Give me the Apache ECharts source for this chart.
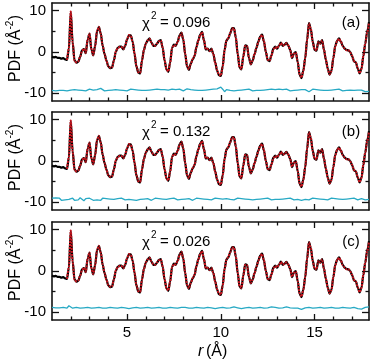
<!DOCTYPE html>
<html>
<head>
<meta charset="utf-8">
<script src="https://cdn.jsdelivr.net/npm/echarts@6/dist/echarts.min.js"></script>
<style>
html, body { margin: 0; padding: 0; background: #fff; }
#chart { width: 374px; height: 361px; }
</style>
</head>
<body>
<div id="chart"></div>
<script>
// r grid of the PDF (Å), one value every 0.1 Å starting at 1.0
const rStart = 1.0;
const rStep = 0.1;

// measured G(r), same data in all three panels
const gObs = [
	-1.1, -1.3, -1.2, -1.4, -1.4, -1.6, -1.5, -1.8, -1.9, 0.8,
	9.6, 2.4, -2.0, -2.6, -2.4, -1.2, 0.4, 0.7, -0.3, 3.0,
	4.4, 0.6, -0.8, 1.5, 5.0, 6.0, 4.5, 1.5, -0.5, -2.0,
	-3.5, -3.9, -3.8, -2.0, 0.0, 1.0, 1.3, 1.3, 0.6, 1.5,
	3.0, 4.0, 4.0, 2.5, -0.5, -3.5, -5.0, -5.2, -2.0, 0.5,
	2.0, 2.8, 3.3, 2.3, 1.5, 1.5, 2.0, 2.7, 2.9, 1.0,
	-2.0, -4.2, -4.8, -2.5, 1.0, 1.8, 1.5, 2.5, 4.0, 4.7,
	3.0, -0.5, -3.5, -4.3, -2.8, -1.8, -1.0, 1.2, 2.8, 4.2,
	4.9, 2.8, 0.6, 0.8, 0.2, 0.8, -0.5, -2.5, -4.5, -5.6,
	-5.8, -3.5, 0.5, 2.8, 3.3, 4.5, 5.8, 5.8, 3.5, -0.5,
	-3.8, -4.2, -1.0, 1.6, 1.5, -1.5, -3.0, -2.0, -0.5, 1.0,
	2.5, 3.8, 4.2, 2.5, 0.0, -2.0, -2.2, -0.8, 0.8, 1.3,
	0.8, 1.5, 2.3, 1.5, 1.8, 2.2, 1.5, 0.5, -1.5, -0.3,
	0.0, -2.5, -5.5, -6.3, -4.5, -1.5, 3.0, 7.0, 5.5, 2.5,
	0.5, 0.3, 2.6, 2.0, 2.9, 0.5, -1.9, -4.0, -5.5, -4.5,
	-1.5, 1.5, 2.7, 3.3, 2.5, 1.5, 0.8, 0.5, 0.4, 0.0,
	-1.0, -2.3, -2.5, -4.0, -5.2, -4.0, -1.0, 2.0, 4.8, 7.2
];

// fitted G(r), fit starts at 1.8 Å
const gCalc = [
	null, null, null, null, null, null, null, null, -1.9, 0.9,
	9.8, 2.3, -2.1, -2.5, -2.3, -1.1, 0.3, 0.8, -0.2, 2.9,
	4.5, 0.7, -0.7, 1.4, 5.1, 6.1, 4.4, 1.6, -0.4, -2.1,
	-3.4, -3.8, -3.7, -2.1, 0.1, 0.9, 1.2, 1.2, 0.7, 1.6,
	3.0, 4.1, 3.9, 2.4, -0.4, -3.4, -4.9, -5.1, -2.1, 0.4,
	2.1, 2.8, 3.2, 2.3, 1.6, 1.5, 2.1, 2.6, 2.8, 1.1,
	-1.9, -4.1, -4.7, -2.6, 0.9, 1.7, 1.6, 2.4, 3.9, 4.6,
	3.1, -0.4, -3.4, -4.2, -2.9, -1.7, -0.9, 1.1, 2.7, 4.1,
	4.8, 2.9, 0.7, 0.7, 0.3, 0.7, -0.4, -2.6, -4.4, -5.5,
	-5.7, -3.6, 0.4, 2.7, 3.4, 4.6, 5.7, 5.7, 3.6, -0.4,
	-3.7, -4.1, -1.1, 1.5, 1.4, -1.4, -2.9, -2.1, -0.4, 1.1,
	2.4, 3.7, 4.1, 2.6, 0.1, -1.9, -2.1, -0.9, 0.7, 1.2,
	0.9, 1.4, 2.2, 1.6, 1.7, 2.1, 1.6, 0.4, -1.4, -0.4,
	-0.1, -2.4, -5.4, -6.2, -4.6, -1.4, 2.9, 6.9, 5.6, 2.4,
	0.6, 0.4, 2.5, 2.1, 2.8, 0.6, -1.8, -4.1, -5.4, -4.6,
	-1.4, 1.4, 2.6, 3.2, 2.6, 1.4, 0.9, 0.4, 0.5, -0.1,
	-0.9, -2.2, -2.6, -3.9, -5.1, -4.1, -0.9, 2.1, 4.7, 7.1
];

// difference curves (offset below the data)
const diffA = [
	-9.3, -9.0, -9.4, -9.1, -9.3, -9.0, -9.3, -9.1, -9.4, -9.0,
	-9.2, -9.4, -9.1, -9.3, -9.2, -9.0, -9.3, -9.1, -9.4, -9.2,
	-9.0, -9.3, -9.2, -9.4, -9.1, -9.3, -8.8, -9.2, -9.4, -9.1,
	-9.3, -9.0, -9.2, -9.4, -9.1, -9.3, -9.2, -8.9, -9.3, -9.1,
	-9.4, -9.2, -9.0, -9.3, -9.1, -9.4, -9.2, -9.0, -9.3, -9.1,
	-9.3, -9.0, -9.2, -9.4, -9.1, -9.3, -9.0, -9.3, -9.1, -9.4,
	-9.1, -8.8, -9.2, -9.4, -9.0, -9.3, -9.1, -9.3, -9.0, -9.2,
	-9.4, -9.1, -8.9, -9.3, -9.1, -9.4, -9.2, -9.0, -9.3, -9.1,
	-9.3, -9.0, -9.2, -9.4, -9.1, -9.3, -9.0, -9.2, -8.9, -9.1,
	-8.5, -9.0, -9.6, -9.1, -8.8, -9.3, -9.0, -9.4, -9.1, -9.3,
	-9.0, -9.2, -9.4, -9.1, -9.3, -9.0, -9.2, -9.4, -9.1, -9.3,
	-9.1, -9.3, -9.0, -9.2, -9.4, -9.1, -9.3, -9.0, -9.2, -9.1,
	-9.3, -9.0, -9.2, -9.1, -9.3, -9.0, -9.2, -9.4, -9.1, -9.3,
	-9.0, -9.2, -9.4, -9.1, -9.3, -9.1, -9.0, -9.6, -9.2, -9.0,
	-9.3, -9.1, -9.4, -9.2, -9.0, -9.3, -9.1, -9.3, -9.0, -9.2,
	-9.4, -9.1, -9.3, -9.0, -9.2, -9.4, -9.1, -9.3, -9.0, -9.2,
	-9.1, -9.3, -9.4, -9.2, -9.5, -9.2, -9.4, -9.6, -9.3, -9.5
];
const diffB = [
	-9.0, -9.4, -8.9, -9.3, -9.0, -9.5, -9.1, -9.4, -9.0, -9.3,
	-9.6, -9.0, -9.5, -9.1, -9.4, -8.9, -9.3, -9.6, -9.1, -9.4,
	-9.0, -9.3, -9.5, -9.1, -9.4, -9.2, -9.5, -9.0, -9.3, -9.1,
	-9.4, -9.2, -9.0, -9.3, -9.5, -9.1, -9.3, -9.0, -9.2, -9.4,
	-9.1, -9.3, -9.0, -9.4, -9.2, -9.5, -9.1, -9.3, -9.0, -9.2,
	-9.4, -9.1, -9.3, -9.5, -9.2, -9.0, -9.3, -9.1, -9.4, -9.2,
	-9.0, -9.3, -9.4, -9.1, -9.3, -9.0, -9.2, -9.4, -9.1, -9.3,
	-9.0, -9.2, -9.4, -9.1, -9.3, -9.5, -9.2, -9.0, -9.3, -9.1,
	-9.4, -9.2, -9.0, -9.3, -9.1, -9.4, -9.2, -9.0, -9.3, -9.1,
	-8.8, -9.2, -9.5, -9.1, -9.0, -9.3, -9.1, -9.4, -9.2, -9.0,
	-9.3, -9.1, -9.4, -9.2, -9.0, -9.3, -9.1, -9.4, -9.2, -9.3,
	-9.0, -9.2, -9.4, -9.1, -9.3, -9.0, -9.2, -9.4, -9.1, -9.3,
	-9.1, -9.3, -9.0, -9.2, -9.4, -9.1, -9.3, -9.0, -9.2, -9.4,
	-9.1, -9.3, -9.2, -9.5, -9.1, -9.3, -9.0, -9.4, -9.2, -9.0,
	-9.3, -9.1, -9.4, -9.2, -9.0, -9.3, -9.1, -9.4, -9.2, -9.0,
	-9.3, -9.1, -9.4, -9.2, -9.0, -9.3, -9.1, -9.2, -9.4, -9.1,
	-9.3, -9.0, -9.2, -9.4, -9.3, -9.1, -9.3, -9.4, -9.2, -9.3
];
const diffC = [
	-8.8, -9.1, -8.9, -9.2, -8.9, -9.1, -8.8, -9.1, -9.0, -8.4,
	-8.7, -9.0, -8.9, -8.8, -8.9, -9.0, -9.0, -8.9, -8.8, -8.8,
	-8.9, -9.0, -9.0, -8.9, -8.8, -8.8, -8.9, -9.0, -9.1, -9.0,
	-8.9, -8.8, -8.8, -8.9, -9.0, -9.0, -8.9, -8.8, -8.8, -8.9,
	-9.0, -9.1, -9.0, -8.9, -8.8, -8.8, -8.9, -9.0, -9.0, -8.9,
	-8.8, -8.8, -8.9, -9.0, -9.0, -8.9, -8.8, -8.8, -8.9, -9.0,
	-9.1, -9.0, -8.9, -8.8, -8.8, -8.9, -9.0, -9.0, -8.9, -8.8,
	-8.7, -8.8, -8.9, -9.0, -9.1, -9.0, -8.9, -8.8, -8.8, -8.9,
	-9.0, -9.0, -8.9, -8.8, -8.8, -8.9, -9.0, -9.1, -9.0, -8.9,
	-8.8, -8.8, -8.9, -9.0, -9.0, -8.9, -8.8, -8.7, -8.8, -8.9,
	-9.0, -9.1, -9.0, -8.9, -8.8, -8.8, -8.9, -9.0, -9.0, -8.9,
	-8.8, -8.8, -8.9, -9.0, -9.0, -8.9, -8.8, -8.7, -8.7, -8.8,
	-8.9, -9.0, -9.0, -8.9, -8.8, -8.7, -8.8, -8.9, -9.0, -9.0,
	-8.9, -9.0, -9.2, -9.3, -9.1, -8.9, -8.8, -8.8, -8.9, -9.0,
	-9.0, -8.9, -8.8, -8.8, -8.9, -9.0, -9.0, -8.9, -8.8, -8.8,
	-8.9, -9.0, -9.1, -9.0, -8.9, -8.8, -8.8, -8.9, -9.0, -9.0,
	-8.9, -8.8, -8.9, -9.1, -9.3, -9.2, -9.0, -8.8, -8.7, -8.7
];

const diffs = [diffA, diffB, diffC];
const chiValues = ["0.096", "0.132", "0.026"];
const panelTags = ["(a)", "(b)", "(c)"];
const xMajor = [5, 10, 15];
const xMinor = [2, 3, 4, 6, 7, 8, 9, 11, 12, 13, 14, 16, 17];
const yMajor = [-10, 0, 10];
const yMinor = [-5, 5];

const FONT = "'Liberation Sans', Arial, Helvetica, sans-serif";
const gridTops = [3, 112, 222];
const gridH = 98;

function toPairs(arr) {
	const out = [];
	arr.forEach((v, i) => {
		if (v !== null) out.push([+(rStart + i * rStep).toFixed(1), v]);
	});
	return out;
}

// one axis = a set of ticks on one side of a panel
function makeAxis(g, pos, ticks, len, withLine, labels, isX) {
	return {
		type: "value",
		gridIndex: g,
		position: pos,
		min: isX ? 1 : -11.85,
		max: isX ? 17.9 : 11.85,
		axisLine: { show: withLine, onZero: false, lineStyle: { color: "#111", width: 1.6 } },
		axisTick: { show: true, inside: true, length: len, customValues: ticks, lineStyle: { color: "#111", width: 1.3 } },
		axisLabel: {
			show: labels,
			customValues: isX ? xMajor : yMajor,
			margin: isX ? 5 : 6,
			color: "#000",
			fontSize: 15,
			fontFamily: FONT,
		},
		splitLine: { show: false },
	};
}

const grids = [];
const xAxes = [];
const yAxes = [];
const series = [];
const graphics = [];

for (let g = 0; g < 3; g++) {
	grids.push({ left: 52, width: 317, top: gridTops[g], height: gridH });
	xAxes.push(makeAxis(g, "bottom", xMajor, 6, true, g === 2, true));
	xAxes.push(makeAxis(g, "bottom", xMinor, 3.5, false, false, true));
	xAxes.push(makeAxis(g, "top", xMajor, 6, true, false, true));
	xAxes.push(makeAxis(g, "top", xMinor, 3.5, false, false, true));
	yAxes.push(makeAxis(g, "left", yMajor, 7, true, true, false));
	yAxes.push(makeAxis(g, "left", yMinor, 3.5, false, false, false));
	yAxes.push(makeAxis(g, "right", yMajor, 7, true, false, false));
	yAxes.push(makeAxis(g, "right", yMinor, 3.5, false, false, false));

	const ax = g * 4;
	series.push({
		type: "line", xAxisIndex: ax, yAxisIndex: ax, data: toPairs(gObs),
		showSymbol: false, smooth: 0.3, smoothMonotone: "x",
		lineStyle: { color: "#000", width: 2.2 }, z: 2,
	});
	series.push({
		type: "line", xAxisIndex: ax, yAxisIndex: ax, data: toPairs(gCalc),
		showSymbol: false, smooth: 0.3, smoothMonotone: "x",
		lineStyle: { color: "#c8141e", width: 2, type: [2, 1] }, z: 3,
	});
	series.push({
		type: "line", xAxisIndex: ax, yAxisIndex: ax, data: toPairs(diffs[g]),
		showSymbol: false, lineStyle: { color: "#27a9c4", width: 1.3 }, z: 2,
	});

	const dy = gridTops[g] - 3;
	graphics.push({ type: "text", x: 142, y: 24 + dy, style: { text: "χ", fontSize: 15, fontFamily: FONT, fill: "#000", verticalAlign: "middle" } });
	graphics.push({ type: "text", x: 151, y: 16 + dy, style: { text: "2", fontSize: 10, fontFamily: FONT, fill: "#000", verticalAlign: "middle" } });
	graphics.push({ type: "text", x: 160, y: 23 + dy, style: { text: "= " + chiValues[g], fontSize: 15, fontFamily: FONT, fill: "#000", verticalAlign: "middle" } });
	graphics.push({ type: "text", x: 351, y: 23 + dy, style: { text: panelTags[g], fontSize: 15, fontFamily: FONT, fill: "#000", align: "center", verticalAlign: "middle" } });
	// rotated y title: PDF (Å^-2)
	graphics.push({ type: "text", x: 16, y: 82 + dy, rotation: Math.PI / 2, style: { text: "PDF (Å", fontSize: 16, fontFamily: FONT, fill: "#000", align: "left", verticalAlign: "middle" } });
	graphics.push({ type: "text", x: 10, y: 29.6 + dy, rotation: Math.PI / 2, style: { text: "-2", fontSize: 10, fontFamily: FONT, fill: "#000", align: "left", verticalAlign: "middle" } });
	graphics.push({ type: "text", x: 16, y: 20.2 + dy, rotation: Math.PI / 2, style: { text: ")", fontSize: 16, fontFamily: FONT, fill: "#000", align: "left", verticalAlign: "middle" } });
}

graphics.push({ type: "text", x: 198, y: 352, style: { text: "r", fontSize: 16, fontStyle: "italic", fontFamily: FONT, fill: "#000", verticalAlign: "middle" } });
graphics.push({ type: "text", x: 206, y: 352, style: { text: "(Å)", fontSize: 16, fontFamily: FONT, fill: "#000", verticalAlign: "middle" } });

const chart = echarts.init(document.getElementById("chart"));
chart.setOption({
	animation: false,
	backgroundColor: "#fff",
	grid: grids,
	xAxis: xAxes,
	yAxis: yAxes,
	series: series,
	graphic: graphics,
});
</script>
</body>
</html>
